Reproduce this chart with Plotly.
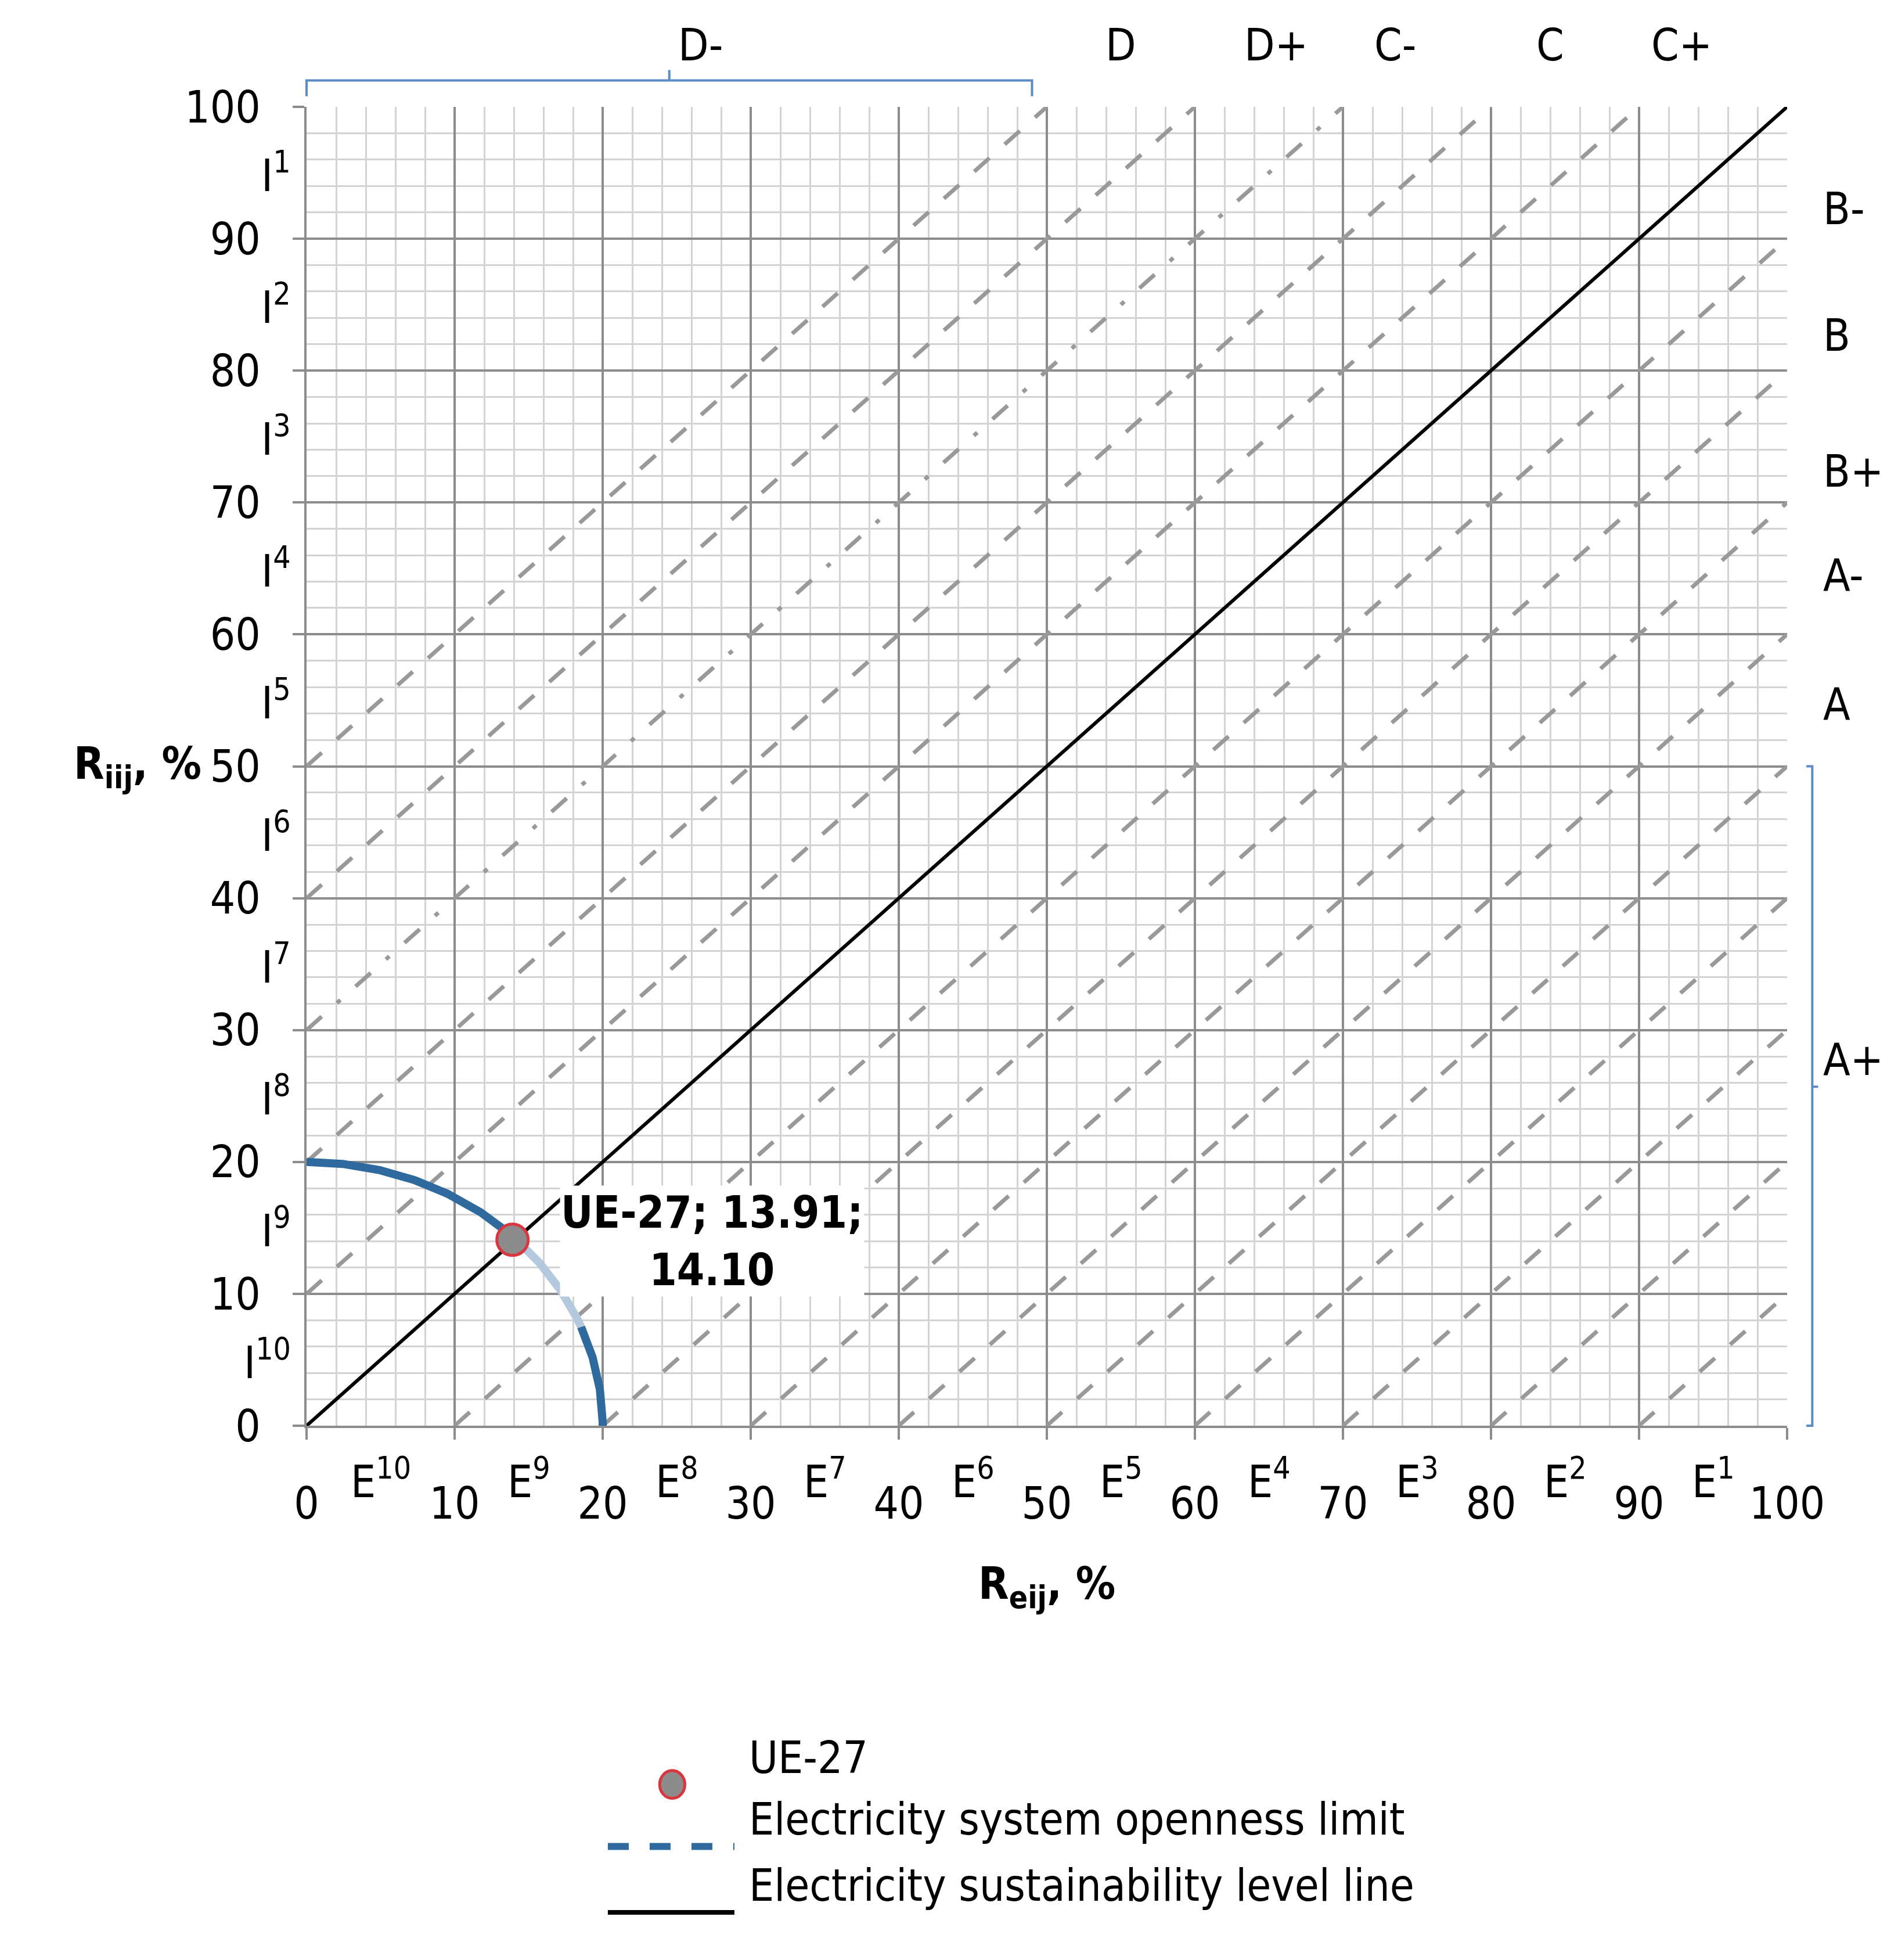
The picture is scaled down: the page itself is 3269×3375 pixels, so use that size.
import numpy as np
import plotly.graph_objects as go

# data
point_name = "UE-27"
point_x = [13.91]
point_y = [14.10]
limit_radius = 20
diag_offsets = [-90, -80, -70, -60, -50, -40, -30, -20, -10, 10, 20, 40, 50]
dashdot_offsets = [30]
ticks = [0, 10, 20, 30, 40, 50, 60, 70, 80, 90, 100]
e_labels = ["E<sup>10</sup>", "E<sup>9</sup>", "E<sup>8</sup>", "E<sup>7</sup>", "E<sup>6</sup>",
            "E<sup>5</sup>", "E<sup>4</sup>", "E<sup>3</sup>", "E<sup>2</sup>", "E<sup>1</sup>"]
i_labels = ["I<sup>10</sup>", "I<sup>9</sup>", "I<sup>8</sup>", "I<sup>7</sup>", "I<sup>6</sup>",
            "I<sup>5</sup>", "I<sup>4</sup>", "I<sup>3</sup>", "I<sup>2</sup>", "I<sup>1</sup>"]
top_labels = ["D-", "D", "D+", "C-", "C", "C+"]
top_pos = [25, 55, 65.5, 75, 85, 95]
right_labels = ["B-", "B", "B+", "A-", "A", "A+"]
right_pos = [94.3, 84.7, 74.4, 64.5, 54.7, 25.7]
legend_names = ["UE-27", "Electricity system openness limit", "Electricity sustainability level line"]

FONT = "DejaVu Sans Condensed, DejaVu Sans"
fs = 76
fig = go.Figure()

def seg(c):
    x0, x1 = max(0, -c), min(100, 100 - c)
    return [x0, x1], [x0 + c, x1 + c]

for c in diag_offsets:
    xs, ys = seg(c)
    fig.add_trace(go.Scatter(x=xs, y=ys, mode="lines", showlegend=False, hoverinfo="skip",
                             line=dict(color="#999999", width=7, dash="35px,35px")))
for c in dashdot_offsets:
    xs, ys = seg(c)
    fig.add_trace(go.Scatter(x=xs, y=ys, mode="lines", showlegend=False, hoverinfo="skip",
                             line=dict(color="#999999", width=7, dash="35px,35px,8px,35px")))

# openness limit arc
a_pt = np.arctan2(point_y[0], point_x[0])
a_lt = np.deg2rad(22)
t1 = np.linspace(np.pi / 2, a_pt, 200)
t2 = np.linspace(a_pt, a_lt, 100)
t3 = np.linspace(a_lt, 0, 100)
for t, col in [(t1, "#2E6A9E"), (t2, "#B4C8DE"), (t3, "#2E6A9E")]:
    fig.add_trace(go.Scatter(x=limit_radius * np.cos(t), y=limit_radius * np.sin(t), mode="lines",
                             showlegend=False, hoverinfo="skip", line=dict(color=col, width=14)))

# sustainability line
fig.add_trace(go.Scatter(x=[0, 100], y=[0, 100], mode="lines", showlegend=False,
                         line=dict(color="black", width=6)))

fig.add_trace(go.Scatter(x=point_x, y=point_y, mode="markers", name=point_name, showlegend=False,
                         marker=dict(size=54, color="#8C8C8C", line=dict(color="#D9363E", width=5))))

ann = []
ann.append(dict(x=27.4, y=14.0, text="<b>UE-27; 13.91;<br>14.10</b>", showarrow=False,
                bgcolor="white", font=dict(size=fs)))
for k, t in enumerate(e_labels):
    ann.append(dict(x=5 + 10 * k, y=0, text=t, showarrow=False, yanchor="top", yshift=-40,
                    font=dict(size=fs)))
for k, t in enumerate(i_labels):
    ann.append(dict(x=0, y=5 + 10 * k, text=t, showarrow=False, xanchor="right", xshift=-25,
                    font=dict(size=fs)))
for t, p in zip(top_labels, top_pos):
    ann.append(dict(x=p / 100, y=1.0, xref="paper", yref="paper", text=t, showarrow=False,
                    yanchor="bottom", yshift=60, font=dict(size=fs)))
for t, p in zip(right_labels, right_pos):
    ann.append(dict(x=1.0, y=p / 100, xref="paper", yref="paper", text=t, showarrow=False,
                    xanchor="left", xshift=60, font=dict(size=fs)))
ann.append(dict(x=-0.158, y=0.5, xref="paper", yref="paper", text="<b>R<sub>iij</sub>, %</b>",
                showarrow=False, font=dict(size=fs)))
ann.append(dict(x=0.5, y=-0.145, xref="paper", yref="paper", text="<b>R<sub>eij</sub>, %</b>",
                showarrow=False, font=dict(size=fs)))

# custom legend
leg_y = [-0.272, -0.319, -0.369]
for name, yy in zip(legend_names, leg_y):
    ann.append(dict(x=0.298, y=yy, xref="paper", yref="paper", text=name, showarrow=False,
                    xanchor="left", font=dict(size=fs)))

shapes = [
    dict(type="path", xref="paper", yref="paper", line=dict(color="#5B8CC8", width=4),
         path="M 0,1.008 L 0,1.02 L 0.49,1.02 L 0.49,1.008 M 0.245,1.02 L 0.245,1.028"),
    dict(type="path", xref="paper", yref="paper", line=dict(color="#5B8CC8", width=4),
         path="M 1.013,0 L 1.017,0 L 1.017,0.5 L 1.013,0.5 M 1.017,0.257 L 1.021,0.257"),
    dict(type="circle", xref="paper", yref="paper", x0=0.2385, x1=0.2555,
         y0=leg_y[0] - 0.0105, y1=leg_y[0] + 0.0105,
         fillcolor="#8C8C8C", line=dict(color="#D9363E", width=5)),
    dict(type="line", xref="paper", yref="paper", x0=0.2035, x1=0.289, y0=leg_y[1], y1=leg_y[1],
         line=dict(color="#2E6A9E", width=12, dash="dash")),
    dict(type="line", xref="paper", yref="paper", x0=0.2035, x1=0.289, y0=leg_y[2], y1=leg_y[2],
         line=dict(color="black", width=8)),
]

axis = dict(range=[0, 100], tickvals=ticks, showgrid=True, gridcolor="#8C8C8C", gridwidth=4,
            minor=dict(dtick=2, showgrid=True, gridcolor="#D3D3D3", gridwidth=3),
            ticks="outside", ticklen=20, tickcolor="#8C8C8C", tickwidth=4,
            showline=True, linecolor="#8C8C8C", linewidth=4, zeroline=False,
            tickfont=dict(size=fs, color="black"))

fig.update_layout(
    width=3269, height=3375, margin=dict(l=520, r=199, t=176, b=928),
    paper_bgcolor="white", plot_bgcolor="white",
    font=dict(family=FONT, size=fs, color="black"),
    xaxis=dict(axis, ticklabelstandoff=45),
    yaxis=dict(axis, ticklabelstandoff=40),
    annotations=ann, shapes=shapes, showlegend=False,
)
fig.write_html("out.html")
